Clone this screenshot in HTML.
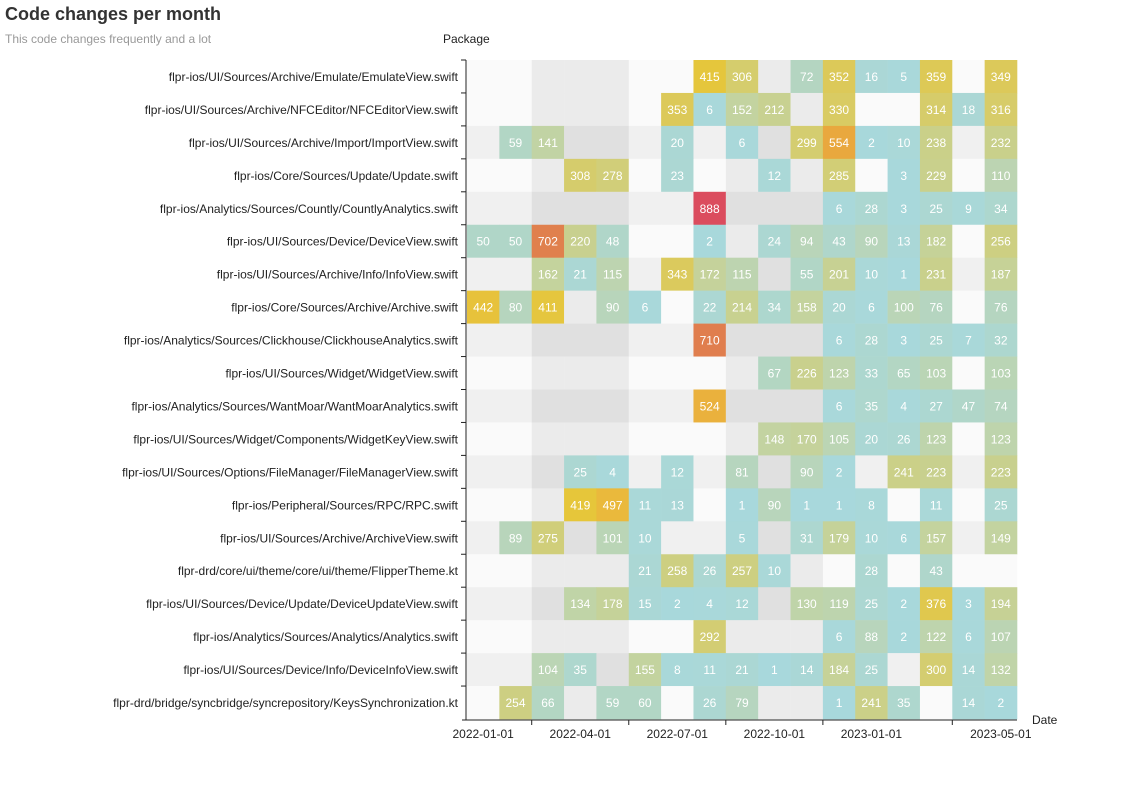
<!DOCTYPE html>
<html><head><meta charset="utf-8">
<style>
body{margin:0;background:#fff;font-family:"Liberation Sans",sans-serif;}
svg{display:block}
</style></head>
<body>
<svg id="chart" width="1130" height="800">
<text x="5" y="20" font-size="18" font-weight="bold" fill="#333">Code changes per month</text>
<text x="5" y="43" font-size="12" fill="#999">This code changes frequently and a lot</text>
<text x="443" y="43" font-size="12" fill="#222">Package</text>
<text x="1032" y="724" font-size="12" fill="#222">Date</text>
<g id="cells"></g><g id="axes"></g>
</svg>
<script>
const packages=["flpr-ios/UI/Sources/Archive/Emulate/EmulateView.swift","flpr-ios/UI/Sources/Archive/NFCEditor/NFCEditorView.swift","flpr-ios/UI/Sources/Archive/Import/ImportView.swift","flpr-ios/Core/Sources/Update/Update.swift","flpr-ios/Analytics/Sources/Countly/CountlyAnalytics.swift","flpr-ios/UI/Sources/Device/DeviceView.swift","flpr-ios/UI/Sources/Archive/Info/InfoView.swift","flpr-ios/Core/Sources/Archive/Archive.swift","flpr-ios/Analytics/Sources/Clickhouse/ClickhouseAnalytics.swift","flpr-ios/UI/Sources/Widget/WidgetView.swift","flpr-ios/Analytics/Sources/WantMoar/WantMoarAnalytics.swift","flpr-ios/UI/Sources/Widget/Components/WidgetKeyView.swift","flpr-ios/UI/Sources/Options/FileManager/FileManagerView.swift","flpr-ios/Peripheral/Sources/RPC/RPC.swift","flpr-ios/UI/Sources/Archive/ArchiveView.swift","flpr-drd/core/ui/theme/core/ui/theme/FlipperTheme.kt","flpr-ios/UI/Sources/Device/Update/DeviceUpdateView.swift","flpr-ios/Analytics/Sources/Analytics/Analytics.swift","flpr-ios/UI/Sources/Device/Info/DeviceInfoView.swift","flpr-drd/bridge/syncbridge/syncrepository/KeysSynchronization.kt"];
const months=["2022-01","2022-02","2022-03","2022-04","2022-05","2022-06","2022-07","2022-08","2022-09","2022-10","2022-11","2022-12","2023-01","2023-02","2023-03","2023-04","2023-05"];
const tickLabels=["2022-01-01","2022-04-01","2022-07-01","2022-10-01","2023-01-01","2023-05-01"];
const tickMonths=[0,3,6,9,12,16];
const _=null;
const values=[
[_,_,_,_,_,_,_,415,306,_,72,352,16,5,359,_,349],
[_,_,_,_,_,_,353,6,152,212,_,330,_,_,314,18,316],
[_,59,141,_,_,_,20,_,6,_,299,554,2,10,238,_,232],
[_,_,_,308,278,_,23,_,_,12,_,285,_,3,229,_,110],
[_,_,_,_,_,_,_,888,_,_,_,6,28,3,25,9,34],
[50,50,702,220,48,_,_,2,_,24,94,43,90,13,182,_,256],
[_,_,162,21,115,_,343,172,115,_,55,201,10,1,231,_,187],
[442,80,411,_,90,6,_,22,214,34,158,20,6,100,76,_,76],
[_,_,_,_,_,_,_,710,_,_,_,6,28,3,25,7,32],
[_,_,_,_,_,_,_,_,_,67,226,123,33,65,103,_,103],
[_,_,_,_,_,_,_,524,_,_,_,6,35,4,27,47,74],
[_,_,_,_,_,_,_,_,_,148,170,105,20,26,123,_,123],
[_,_,_,25,4,_,12,_,81,_,90,2,_,241,223,_,223],
[_,_,_,419,497,11,13,_,1,90,1,1,8,_,11,_,25],
[_,89,275,_,101,10,_,_,5,_,31,179,10,6,157,_,149],
[_,_,_,_,_,21,258,26,257,10,_,_,28,_,43,_,_],
[_,_,_,134,178,15,2,4,12,_,130,119,25,2,376,3,194],
[_,_,_,_,_,_,_,292,_,_,_,6,88,2,122,6,107],
[_,_,104,35,_,155,8,11,21,1,14,184,25,_,300,14,132],
[_,254,66,_,59,60,_,26,79,_,_,1,241,35,_,14,2]
];
const X0=467,CW=550/17,Y0=60,RH=659/20;
const xs=i=>X0+i*CW, ys=j=>Y0+j*RH;
const stops=[[0,[168,216,220]],[50,[176,214,200]],[90,[184,213,187]],[150,[195,211,160]],[230,[201,208,140]],[300,[212,205,112]],[350,[220,201,90]],[420,[230,198,58]],[500,[234,184,60]],[554,[233,168,62]],[710,[224,126,78]],[888,[219,76,94]]];
function color(v){for(let k=1;k<stops.length;k++){if(v<=stops[k][0]){const a=stops[k-1],b=stops[k],t=(v-a[0])/(b[0]-a[0]);return 'rgb('+a[1].map((c,i)=>Math.round(c+(b[1][i]-c)*t)).join(',')+')';}}return 'rgb(219,76,94)';}
const darkCol=[0,0,1,1,1,0,0,0,1,1,1,0,0,0,0,0,0];
const ns='http://www.w3.org/2000/svg';
const cells=document.getElementById('cells'),axes=document.getElementById('axes');
function mk(tag,attrs,parent){const e=document.createElementNS(ns,tag);for(const k in attrs)e.setAttribute(k,attrs[k]);parent.appendChild(e);return e;}
values.forEach((row,j)=>{
  const lightRow=(j===0)||(j%2===1);
  row.forEach((v,i)=>{
    let fill;
    if(v===null){fill=lightRow?(darkCol[i]?'#ebebeb':'#fafafa'):(darkCol[i]?'#e0e0e0':'#f0f0f0');}
    else fill=color(v);
    const r=mk('rect',{x:xs(i),y:ys(j),width:CW+0.3,height:RH+0.3,fill:fill},cells);
    
    
    if(v!==null){
      const t=mk('text',{x:xs(i)+CW/2,y:ys(j)+RH/2+4.5,'text-anchor':'middle','font-size':'12',fill:'#fff'},cells);
      t.textContent=v;
      
      
    }
  });
  const lab=mk('text',{x:458,y:ys(j)+RH/2+4.5,'text-anchor':'end','font-size':'12',fill:'#222'},axes);
  lab.textContent=packages[j];
  
  
  mk('line',{x1:461,x2:466,y1:ys(j),y2:ys(j),stroke:'#222'},axes);
});
let yl=mk('line',{x1:466,x2:466,y1:Y0,y2:720,stroke:'#222'},axes);


let xl=mk('line',{x1:462,x2:1017,y1:720,y2:720,stroke:'#222'},axes);


tickMonths.forEach((m,k)=>{
  const tx=xs(m-1);
  if(tx>466) mk('line',{x1:tx,x2:tx,y1:720,y2:725,stroke:'#222'},axes);
  const t=mk('text',{x:xs(m)+CW/2,y:738,'text-anchor':'middle','font-size':'12',fill:'#222'},axes);
  t.textContent=tickLabels[k];
  
  
});
</script>
</body></html>
